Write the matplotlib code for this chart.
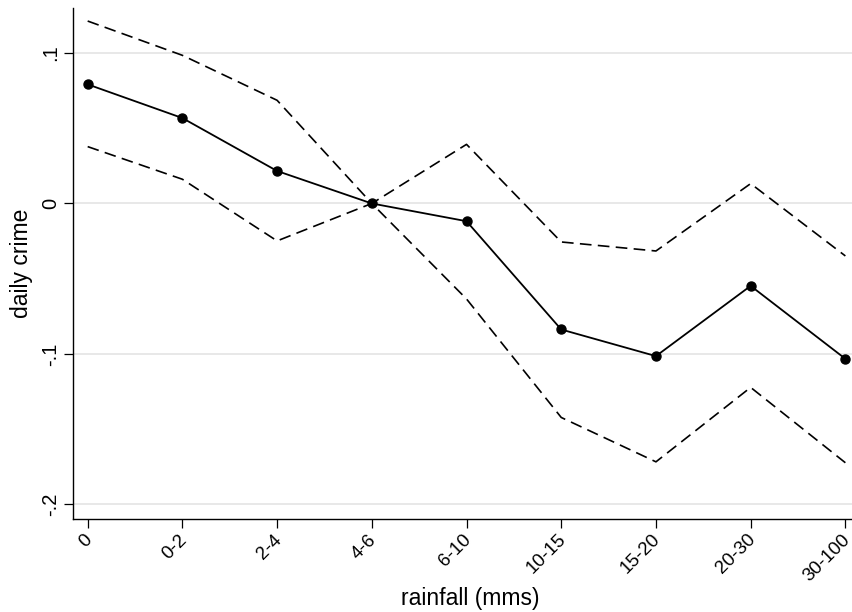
import matplotlib.pyplot as plt
import matplotlib.transforms as mtransforms

plt.rcParams["font.family"] = ["Liberation Sans", "DejaVu Sans"]

categories = ["0", "0-2", "2-4", "4-6", "6-10", "10-15", "15-20", "20-30", "30-100"]
estimate = [0.0792, 0.0568, 0.0216, 0.0, -0.0118, -0.0838, -0.1015, -0.0548, -0.1033]
upper = [0.1213, 0.0985, 0.0686, 0.0, 0.0393, -0.0256, -0.0316, 0.0132, -0.0349]
lower = [0.0378, 0.0161, -0.0249, 0.0, -0.0635, -0.1423, -0.1718, -0.1223, -0.1724]
yticks = [-0.2, -0.1, 0.0, 0.1]
ytick_labels = ["-.2", "-.1", "0", ".1"]

fig = plt.figure(figsize=(8.52, 6.12), dpi=100)
ax = fig.add_axes([0.086, 0.1515, 0.914, 0.8355])

x = list(range(len(categories)))

for yv in yticks:
    ax.axhline(yv, color="#e6e6e6", lw=1.3, zorder=0)

ax.plot(x, upper, color="black", lw=1.2, dashes=(7, 3.8))
ax.plot(x, lower, color="black", lw=1.2, dashes=(7, 3.8))
ax.plot(x, estimate, color="black", lw=1.3, marker="o", markersize=6.5)

ax.set_xlim(-0.152, 8.07)
ax.set_ylim(-0.21, 0.13)
ax.set_xticks(x)
ax.set_xticklabels(categories, rotation=45, ha="right", rotation_mode="anchor", fontsize=13.5)
ax.set_yticks(yticks)
ax.set_yticklabels(ytick_labels, rotation=90, va="center", fontsize=14.5)
ax.tick_params(direction="out", length=6.5, width=0.9, color="black")
ax.tick_params(axis="x", pad=2)
ax.tick_params(axis="y", pad=3)

# nudge rotated labels a little left so the last one stays inside the figure
shift = mtransforms.ScaledTranslation(-4 / 100, 0, fig.dpi_scale_trans)
for lbl in ax.get_xticklabels():
    lbl.set_transform(lbl.get_transform() + shift)

for side in ["top", "right"]:
    ax.spines[side].set_visible(False)
for side in ["left", "bottom"]:
    ax.spines[side].set_linewidth(1.0)

fig.text(470 / 852, 1 - 598 / 612, "rainfall (mms)", fontsize=16.5, ha="center", va="center")
ax.set_ylabel("daily crime", fontsize=16.5, labelpad=6)

fig.savefig("out.png", dpi=100)
